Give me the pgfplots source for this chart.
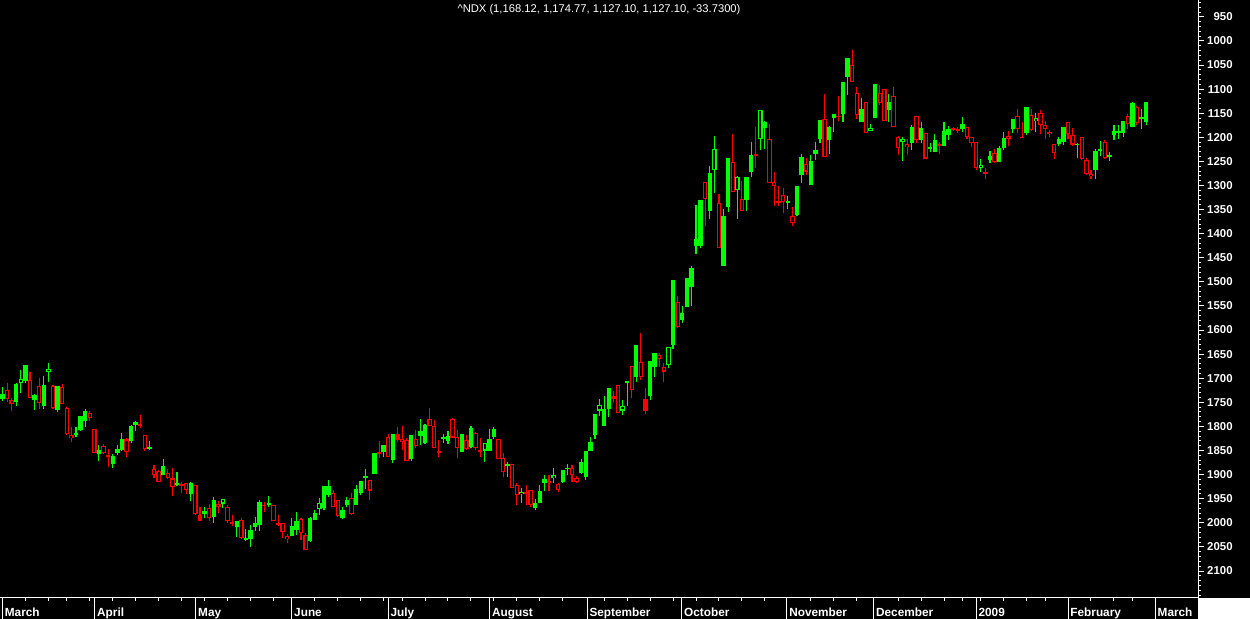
\documentclass[border=0pt]{standalone}
\usepackage{pgfplots}
\pgfplotsset{compat=1.18}
\usepackage{pgfplotstable}
\usepackage{fontspec}
\setmainfont{Liberation Sans}
\definecolor{up}{RGB}{0,255,0}
\definecolor{dn}{RGB}{255,0,0}

% x = bar number, o h l c, t: 0 green filled, 1 green hollow, 2 red filled, 3 red hollow
\pgfplotstableread{
x o h l c t
0 1743 1747 1719 1733 0
1 1725 1749 1709 1744 3
2 1745 1768 1740 1753 3
3 1749 1757 1709 1712 0
4 1709 1730 1683 1702 1
5 1706 1709 1673 1673 0
6 1704 1742 1688 1741 3
7 1745 1766 1733 1735 0
8 1716 1763 1700 1751 3
9 1758 1763 1696 1714 0
10 1687 1707 1669 1680 1
11 1716 1763 1714 1761 3
12 1766 1771 1716 1716 0
13 1719 1753 1712 1753 3
14 1761 1817 1759 1815 3
15 1817 1832 1801 1825 3
16 1817 1822 1801 1814 0
17 1808 1810 1779 1779 0
18 1788 1801 1764 1768 0
19 1772 1788 1768 1782 3
20 1806 1855 1806 1855 3
21 1857 1871 1839 1849 0
22 1841 1858 1837 1855 3
23 1860 1884 1847 1864 3
24 1878 1886 1858 1862 0
25 1855 1860 1839 1847 0
26 1849 1851 1814 1826 0
27 1827 1863 1825 1853 3
28 1831 1834 1796 1799 0
29 1797 1810 1789 1791 0
30 1796 1804 1777 1798 3
31 1818 1851 1818 1846 3
32 1846 1849 1831 1843 0
33 1889 1907 1880 1901 3
34 1893 1915 1891 1915 3
35 1900 1900 1867 1882 0
36 1896 1909 1889 1908 3
37 1908 1944 1887 1925 3
38 1921 1924 1894 1918 0
39 1920 1938 1916 1923 3
40 1918 1941 1917 1932 3
41 1940 1954 1915 1917 0
42 1922 1983 1922 1981 3
43 1983 1996 1968 1996 2
44 1982 1991 1967 1976 0
45 1969 1996 1960 1991 3
46 1988 2000 1946 1953 0
47 1960 1979 1954 1967 3
48 1960 1970 1950 1950 1
49 1968 2000 1963 1997 3
50 1998 2006 1983 2001 3
51 2009 2029 1997 1997 0
52 1995 2033 1990 2031 3
53 2035 2037 2012 2031 0
54 2033 2051 2005 2015 0
55 2008 2017 1988 2000 0
56 2004 2017 1953 1956 0
57 1962 1977 1956 1965 3
58 1962 1967 1945 1959 0
59 1963 1996 1963 1996 3
60 2001 2006 1984 2004 3
61 2001 2031 2001 2020 3
62 2028 2042 2024 2033 3
63 2027 2027 1991 2007 0
64 2015 2026 1977 1996 0
65 1992 2036 1989 2022 3
66 2025 2056 2022 2056 3
67 2038 2039 1987 1991 0
68 1994 1994 1973 1979 0
69 1972 1984 1949 1958 1
70 1970 1973 1924 1924 0
71 1942 1946 1911 1924 0
72 1939 1968 1931 1967 3
73 1953 1987 1953 1985 3
74 1989 1993 1968 1973 0
75 1963 1967 1946 1953 0
76 1948 1984 1939 1982 3
77 1963 1963 1922 1930 0
78 1939 1942 1913 1913 0
79 1906 1929 1888 1903 0
80 1911 1953 1911 1933 3
81 1899 1899 1856 1856 0
82 1854 1866 1830 1857 3
83 1852 1863 1839 1839 0
84 1822 1864 1816 1863 3
85 1870 1875 1816 1816 0
86 1816 1832 1802 1828 2
87 1826 1849 1799 1832 3
88 1829 1871 1825 1871 3
89 1868 1872 1818 1818 0
90 1826 1845 1807 1840 3
91 1820 1839 1785 1809 0
92 1835 1837 1794 1797 0
93 1785 1800 1762 1800 3
94 1799 1844 1787 1844 3
95 1850 1863 1828 1854 3
96 1825 1835 1816 1823 0
97 1830 1837 1809 1820 0
98 1785 1825 1783 1823 3
99 1821 1865 1807 1845 3
100 1854 1854 1816 1816 0
101 1828 1849 1818 1847 3
102 1842 1845 1799 1803 0
103 1813 1849 1811 1845 3
104 1850 1863 1825 1852 3
105 1850 1873 1835 1835 1
106 1851 1851 1805 1826 0
107 1821 1826 1802 1805 0
108 1826 1868 1826 1868 3
109 1866 1904 1856 1895 3
110 1881 1904 1873 1879 0
111 1877 1928 1877 1927 3
112 1922 1962 1918 1942 3
113 1941 1958 1928 1936 1
114 1936 1963 1922 1940 3
115 1931 1967 1931 1963 3
116 1970 1973 1951 1959 0
117 1958 1958 1922 1934 0
118 1917 1934 1901 1909 0
119 1913 1934 1901 1916 3
120 1908 1918 1887 1901 1
121 1920 1937 1918 1931 3
122 1915 1918 1890 1890 0
123 1888 1901 1877 1886 0
124 1887 1915 1881 1901 3
125 1907 1918 1903 1916 3
126 1896 1899 1868 1874 0
127 1904 1911 1850 1850 0
128 1850 1850 1821 1833 0
129 1818 1826 1774 1774 0
130 1767 1778 1742 1755 1
131 1800 1800 1737 1764 0
132 1764 1780 1721 1721 0
133 1737 1752 1726 1743 2
134 1714 1773 1714 1773 3
135 1767 1776 1745 1757 1
136 1710 1757 1706 1706 0
137 1674 1740 1674 1724 3
138 1697 1707 1631 1631 0
139 1667 1704 1607 1697 3
140 1743 1774 1721 1767 2
141 1737 1745 1665 1665 0
142 1676 1697 1648 1648 0
143 1652 1676 1648 1661 3
144 1676 1707 1669 1686 3
145 1672 1679 1636 1636 1
146 1631 1640 1496 1496 0
147 1542 1596 1529 1594 3
148 1580 1586 1550 1565 0
149 1553 1553 1492 1492 0
150 1511 1551 1468 1471 0
151 1425 1442 1340 1411 0
152 1425 1430 1330 1330 0
153 1293 1385 1293 1328 3
154 1352 1369 1259 1273 0
155 1268 1316 1197 1224 1
156 1337 1430 1317 1430 3
157 1468 1468 1349 1363 0
158 1345 1354 1243 1243 0
159 1252 1313 1193 1313 3
160 1310 1369 1280 1283 1
161 1328 1352 1290 1352 3
162 1330 1353 1282 1282 0
163 1273 1283 1209 1236 0
164 1234 1263 1178 1238 3
165 1203 1227 1143 1144 1
166 1180 1225 1166 1168 0
167 1204 1295 1172 1295 3
168 1292 1342 1272 1302 3
169 1333 1342 1300 1335 3
170 1320 1357 1305 1335 3
171 1335 1349 1322 1332 0
172 1363 1383 1344 1378 3
173 1361 1364 1300 1300 0
174 1278 1294 1234 1240 0
175 1255 1278 1243 1271 3
176 1299 1299 1236 1249 0
177 1234 1248 1209 1226 0
178 1203 1211 1164 1164 0
179 1162 1241 1110 1241 3
180 1205 1234 1176 1179 0
181 1159 1188 1151 1151 0
182 1155 1167 1114 1158 3
183 1151 1169 1085 1085 0
184 1074 1113 1035 1035 0
185 1050 1086 1018 1086 3
186 1108 1162 1096 1153 3
187 1168 1168 1118 1141 0
188 1127 1192 1127 1192 3
189 1186 1186 1172 1180 1
190 1159 1159 1089 1089 0
191 1108 1133 1092 1128 3
192 1100 1167 1100 1167 3
193 1143 1169 1110 1126 0
194 1114 1179 1095 1178 3
195 1199 1236 1197 1223 3
196 1210 1250 1200 1203 1
197 1214 1236 1204 1220 3
198 1211 1226 1174 1179 0
199 1156 1211 1156 1205 3
200 1205 1211 1169 1180 0
201 1191 1244 1191 1244 3
202 1224 1231 1212 1221 0
203 1230 1230 1194 1205 0
204 1214 1234 1209 1217 3
205 1217 1217 1169 1187 0
206 1196 1205 1176 1182 0
207 1181 1186 1178 1184 3
208 1183 1190 1179 1186 3
209 1183 1188 1158 1172 0
210 1179 1203 1179 1200 3
211 1200 1221 1200 1211 3
212 1209 1268 1209 1263 3
213 1263 1273 1245 1258 1
214 1272 1286 1264 1274 3
215 1248 1254 1229 1238 0
216 1232 1254 1224 1252 3
217 1252 1252 1218 1222 0
218 1223 1226 1189 1201 0
219 1197 1218 1187 1203 3
220 1182 1190 1162 1162 0
221 1155 1191 1141 1183 3
222 1199 1202 1168 1201 3
223 1190 1195 1137 1137 0
224 1154 1187 1141 1185 3
225 1167 1188 1150 1160 1
226 1150 1193 1143 1175 3
227 1174 1203 1167 1183 3
228 1189 1200 1184 1194 3
229 1214 1245 1214 1233 3
230 1214 1219 1200 1203 0
231 1209 1216 1178 1178 0
232 1169 1203 1169 1194 3
233 1196 1218 1180 1215 3
234 1215 1243 1211 1213 0
235 1200 1248 1200 1245 3
236 1247 1278 1243 1276 3
237 1276 1286 1268 1281 3
238 1268 1286 1224 1228 0
239 1227 1238 1207 1225 0
240 1210 1245 1205 1243 3
241 1240 1250 1231 1237 0
242 1196 1205 1174 1187 0
243 1191 1204 1174 1187 0
244 1191 1200 1166 1166 0
245 1155 1183 1151 1173 3
246 1178 1178 1126 1128 0
247 1137 1174 1135 1171 3
248 1160 1183 1141 1158 0
249 1168.12 1174.77 1127.10 1127.10 0
}\ndx

\begin{document}
\begin{tikzpicture}
\useasboundingbox (0pt,-10.5pt) rectangle (625pt,299pt);
\fill[black] (0pt,-10.5pt) rectangle (599pt,299pt);
\fill[black] (599pt,0pt) rectangle (625pt,299pt);
\fill[white] (599pt,-10.5pt) rectangle (625pt,0pt);
\begin{axis}[
    at={(0pt,0pt)}, anchor=south west,
    scale only axis, width=599pt, height=299pt,
    xmin=-0.54, xmax=260.3,
    ymin=915, ymax=2156, y dir=reverse,
    clip=false,
    axis line style={draw=none},
    title={\textasciicircum NDX (1,168.12, 1,174.77, 1,127.10, 1,127.10, -33.7300)},
    title style={at={(0.5,1)}, anchor=north, yshift=-8pt, inner sep=0pt,
        text=white, font=\fontsize{5.6}{6.5}\selectfont},
    ytick={950,1000,...,2100},
    minor ytick={920,930,...,2150},
    ytick pos=right, yticklabel pos=right,
    tick align=outside,
    major tick length=3pt, minor tick length=1.5pt,
    tick style={white, line width=0.5pt},
    yticklabel style={font=\fontsize{5.7}{6.5}\selectfont\bfseries, text=white,
        anchor=east, inner sep=0pt, xshift=14.5pt},
    xtick={0,20.1,42.1,63,84,106.1,127.3,147.9,170.8,189.7,212,232,251},
    xticklabels={March,April,May,June,July,August,September,October,November,December,2009,February,March},
    xtick pos=left, xticklabel pos=left,
    xtick style={draw=none},
    xticklabel style={font=\fontsize{5.9}{6.5}\selectfont\bfseries, text=white,
        anchor=base west, inner sep=0pt, xshift=1pt, yshift=-6.5pt},
    /pgf/number format/assume math mode=true,
    /pgf/number format/1000 sep={},
    candle/.style={only marks, mark size=0pt, mark options={draw=none, fill=none}},
]
% wicks
\addplot[candle,
    error bars/.cd, y dir=both, y explicit, error mark=none,
    error bar style={draw=up, line width=0.55pt}]
    table[x=x, y expr={(\thisrow{h}+\thisrow{l})/2},
      y error expr={ifthenelse(\thisrow{t}<2,(\thisrow{h}-\thisrow{l})/2,0)}] {\ndx};
\addplot[candle,
    error bars/.cd, y dir=both, y explicit, error mark=none,
    error bar style={draw=dn, line width=0.55pt}]
    table[x=x, y expr={(\thisrow{h}+\thisrow{l})/2},
      y error expr={ifthenelse(\thisrow{t}>1,(\thisrow{h}-\thisrow{l})/2,0)}] {\ndx};
% bodies
\addplot[candle,
    error bars/.cd, y dir=both, y explicit, error mark=none,
    error bar style={draw=up, line width=2.2pt}]
    table[x=x, y expr={(\thisrow{o}+\thisrow{c})/2},
      y error expr={ifthenelse(\thisrow{t}<2,max(abs(\thisrow{o}-\thisrow{c})/2,1.1),0)}] {\ndx};
\addplot[candle,
    error bars/.cd, y dir=both, y explicit, error mark=none,
    error bar style={draw=dn, line width=2.2pt}]
    table[x=x, y expr={(\thisrow{o}+\thisrow{c})/2},
      y error expr={ifthenelse(\thisrow{t}>1,max(abs(\thisrow{o}-\thisrow{c})/2,1.1),0)}] {\ndx};
% hollow insides
\addplot[candle,
    error bars/.cd, y dir=both, y explicit, error mark=none,
    error bar style={draw=black, line width=1.1pt}]
    table[x=x, y expr={(\thisrow{o}+\thisrow{c})/2},
      y error expr={ifthenelse(mod(\thisrow{t},2)==1,max(abs(\thisrow{o}-\thisrow{c})/2-2.2,0),0)}] {\ndx};
% month separators and week ticks
\pgfplotsinvokeforeach{0,20.1,42.1,63,84,106.1,127.3,147.9,170.8,189.7,212,232,251}{
    \draw[white, line width=0.5pt] (axis cs:#1,2156) -- ++(0pt,-10.5pt);
}
\pgfplotsinvokeforeach{5,10,14,19,24,29,34,39,44,49,54,59,68,73,78,83,87,92,97,102,107,112,117,122,131,136,141,146,151,156,161,166,176,181,186,195,200,205,209,213,218,223,227,237,242,246}{
    \draw[white, line width=0.5pt] (axis cs:#1,2156) -- ++(0pt,-1.5pt);
}
\end{axis}
\draw[white, line width=0.5pt] (0pt,0pt) -- (599pt,0pt) -- (599pt,299pt);
\end{tikzpicture}
\end{document}
